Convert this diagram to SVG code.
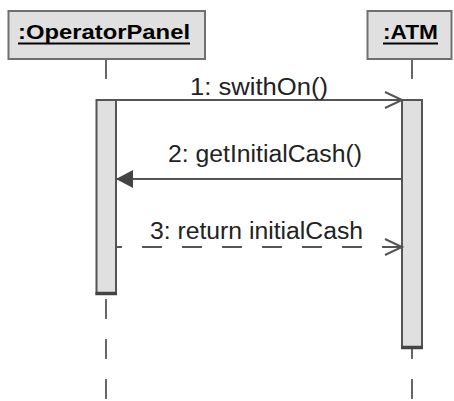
<svg xmlns="http://www.w3.org/2000/svg" width="454" height="401" viewBox="0 0 454 401">
  <style>
    .head { fill: #e0e0e0; stroke: #707070; stroke-width: 2; }
    .title { font-family: "Liberation Sans", Arial, sans-serif; font-size: 20px; font-weight: bold; fill: #000; }
    .uline { stroke: #000; stroke-width: 2; }
    .life { stroke: #666; stroke-width: 2; stroke-dasharray: 20 20; fill: none; }
    .act { fill: #e0e0e0; stroke: #555; stroke-width: 2; }
    .actfoot { stroke: #444; stroke-width: 3.5; }
    .msg { stroke: #555; stroke-width: 2; fill: none; }
    .ret { stroke-dasharray: 20 20; stroke-dashoffset: 14; }
    .label { font-family: "Liberation Sans", Arial, sans-serif; font-size: 23px; fill: #222; }
  </style>
  <defs>
    <marker id="open" markerUnits="userSpaceOnUse" markerWidth="20" markerHeight="20" viewBox="-18 -10 20 20" refX="0" refY="0" orient="auto" overflow="visible">
      <path d="M -17 -8 L 0 0 L -17 8" fill="none" stroke="#555" stroke-width="2" stroke-dasharray="none"/>
    </marker>
    <marker id="filled" markerUnits="userSpaceOnUse" markerWidth="20" markerHeight="20" viewBox="-18 -10 20 20" refX="0" refY="0" orient="auto" overflow="visible">
      <path d="M -17 -9 L 0 0 L -17 9 Z" fill="#444" stroke="none"/>
    </marker>
  </defs>

  <rect width="454" height="401" fill="#fff"/>

  <!-- OperatorPanel lifeline -->
  <g id="operatorPanel">
    <line class="life" x1="106" y1="59" x2="106" y2="401"/>
    <rect class="head" x="8.5" y="11" width="196.5" height="48"/>
    <text class="title" x="18" y="39" textLength="172" lengthAdjust="spacingAndGlyphs">:OperatorPanel</text>
    <line class="uline" x1="18" y1="43.5" x2="190" y2="43.5"/>
    <rect class="act" x="96.5" y="100" width="19.5" height="194"/>
    <line class="actfoot" x1="95.5" y1="293.5" x2="117" y2="293.5"/>
  </g>

  <!-- ATM lifeline -->
  <g id="atm">
    <line class="life" x1="412" y1="59" x2="412" y2="401"/>
    <rect class="head" x="367.5" y="11" width="84" height="48"/>
    <text class="title" x="383" y="39" textLength="55" lengthAdjust="spacingAndGlyphs">:ATM</text>
    <line class="uline" x1="383" y1="43.5" x2="438" y2="43.5"/>
    <rect class="act" x="402" y="100" width="20" height="248"/>
    <line class="actfoot" x1="401" y1="347.5" x2="423" y2="347.5"/>
  </g>

  <!-- messages -->
  <g id="connectors">
    <line class="msg" x1="116" y1="100" x2="402" y2="100" marker-end="url(#open)"/>
    <text class="label" x="190" y="95" textLength="138" lengthAdjust="spacingAndGlyphs">1: swithOn()</text>

    <line class="msg" x1="402" y1="179" x2="116" y2="179" marker-end="url(#filled)"/>
    <text class="label" x="168" y="162" textLength="194" lengthAdjust="spacingAndGlyphs">2: getInitialCash()</text>

    <line class="msg ret" x1="116" y1="247" x2="402" y2="247" marker-end="url(#open)"/>
    <text class="label" x="150" y="239" textLength="213" lengthAdjust="spacingAndGlyphs">3: return initialCash</text>
  </g>
</svg>
